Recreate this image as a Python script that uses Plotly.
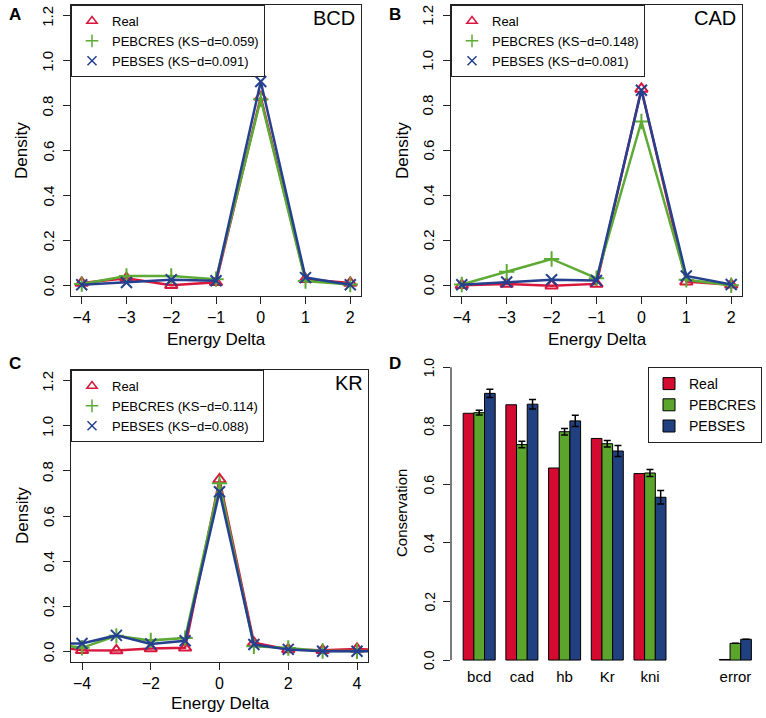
import plotly.graph_objects as go

W, H = 766, 718

# ---------------- data ----------------
series_names = ["Real", "PEBCRES", "PEBSES"]
ks_bcd = ["0.059", "0.091"]
ks_cad = ["0.148", "0.081"]
ks_kr = ["0.114", "0.088"]

delta_ab = [-4, -3, -2, -1, 0, 1, 2]
bcd_real = [0.010, 0.031, 0.000, 0.013, 0.838, 0.027, 0.010]
bcd_pebcres = [0.005, 0.041, 0.041, 0.027, 0.828, 0.019, 0.003]
bcd_pebses = [0.002, 0.012, 0.024, 0.020, 0.907, 0.034, 0.002]

cad_real = [0.000, 0.006, -0.002, 0.006, 0.874, 0.016, 0.002]
cad_pebcres = [0.003, 0.060, 0.117, 0.031, 0.729, 0.024, 0.000]
cad_pebses = [0.002, 0.014, 0.024, 0.021, 0.868, 0.041, 0.003]

delta_c = [-5, -4, -3, -2, -1, 0, 1, 2, 3, 4, 5]
kr_real = [0.025, 0.004, 0.003, 0.012, 0.015, 0.762, 0.037, 0.008, 0.004, 0.010, 0.002]
kr_pebcres = [0.035, 0.015, 0.068, 0.048, 0.058, 0.745, 0.022, 0.014, 0.001, 0.000, 0.000]
kr_pebses = [0.035, 0.034, 0.070, 0.032, 0.046, 0.708, 0.030, 0.008, 0.000, 0.000, 0.000]

genes = ["bcd", "cad", "hb", "Kr", "kni", " ", "error"]
cons_real = [0.843, 0.872, 0.656, 0.757, 0.637, None, 0.002]
cons_pebcres = [0.845, 0.736, 0.780, 0.739, 0.639, None, 0.057]
cons_pebses = [0.911, 0.874, 0.817, 0.714, 0.556, None, 0.071]
err_pebcres = [0.008, 0.011, 0.011, 0.011, 0.012, None, 0]
err_pebses = [0.014, 0.016, 0.019, 0.019, 0.023, None, 0]

density_ticks = [0, 0.2, 0.4, 0.6, 0.8, 1.0, 1.2]
cons_ticks = [0, 0.2, 0.4, 0.6, 0.8, 1.0]

# ---------------- styling ----------------
line_colors = ["#D8173D", "#5DAA34", "#24408E"]
bar_colors = ["#D40B31", "#5BA52D", "#21407F"]
symbols = ["triangle-up-open", "cross-thin-open", "x-thin-open"]
FONT = "Liberation Sans, Arial, sans-serif"


def px(x, y):
    return x / W, 1 - y / H


def dom_x(a, b):
    return [a / W, b / W]


def dom_y(top, bottom):
    return [1 - bottom / H, 1 - top / H]


fig = go.Figure()

panels = [
    dict(xa="x", ya="y", leg="legend", x=delta_ab,
         ys=[bcd_real, bcd_pebcres, bcd_pebses], ks=ks_bcd),
    dict(xa="x2", ya="y2", leg="legend2", x=delta_ab,
         ys=[cad_real, cad_pebcres, cad_pebses], ks=ks_cad),
    dict(xa="x3", ya="y3", leg="legend3", x=delta_c,
         ys=[kr_real, kr_pebcres, kr_pebses], ks=ks_kr),
]

for p in panels:
    for i, name in enumerate(series_names):
        fig.add_trace(go.Scatter(
            x=p["x"], y=p["ys"][i], mode="lines+markers",
            xaxis=p["xa"], yaxis=p["ya"], showlegend=False,
            line=dict(color=line_colors[i], width=2.5),
            marker=dict(symbol=symbols[i], size=11, color=line_colors[i],
                        line=dict(width=2, color=line_colors[i])),
        ))
    for i, name in enumerate(series_names):
        label = name if i == 0 else f"{name} (KS\u2212d={p['ks'][i-1]})"
        fig.add_trace(go.Scatter(
            x=[None], y=[None], mode="markers", name=label,
            xaxis=p["xa"], yaxis=p["ya"], legend=p["leg"],
            marker=dict(symbol=symbols[i], size=9, color=line_colors[i],
                        line=dict(width=1.5, color=line_colors[i])),
        ))

# bar panel
fig.add_trace(go.Bar(x=genes, y=cons_real, name="Real", xaxis="x4", yaxis="y4",
                     legend="legend4",
                     marker=dict(color=bar_colors[0], line=dict(color="black", width=1))))
fig.add_trace(go.Bar(x=genes, y=cons_pebcres, name="PEBCRES", xaxis="x4", yaxis="y4",
                     legend="legend4",
                     marker=dict(color=bar_colors[1], line=dict(color="black", width=1)),
                     error_y=dict(type="data", array=err_pebcres, color="black",
                                  thickness=1.5, width=3.5)))
fig.add_trace(go.Bar(x=genes, y=cons_pebses, name="PEBSES", xaxis="x4", yaxis="y4",
                     legend="legend4",
                     marker=dict(color=bar_colors[2], line=dict(color="black", width=1)),
                     error_y=dict(type="data", array=err_pebses, color="black",
                                  thickness=1.5, width=3.5)))

box_axis = dict(showline=True, linecolor="#222", linewidth=1.3, mirror=True,
                ticks="outside", ticklen=7, tickcolor="#222", tickwidth=1.2,
                showgrid=False, zeroline=False, automargin=False,
                tickfont=dict(size=16, color="black", family=FONT))

yticks = dict(tickmode="array", tickvals=density_ticks, showticklabels=False)

fig.update_layout(
    width=W, height=H, margin=dict(l=0, r=0, t=0, b=0, autoexpand=False),
    paper_bgcolor="white", plot_bgcolor="white",
    font=dict(family=FONT, color="black"),
    barmode="group", bargap=0.25, bargroupgap=0,
    xaxis=dict(domain=dom_x(71, 361), range=[-4.24, 2.24], anchor="y",
               tickmode="array", tickvals=delta_ab, **box_axis),
    yaxis=dict(domain=dom_y(5, 296), range=[-0.048, 1.248], anchor="x", **yticks, **box_axis),
    xaxis2=dict(domain=dom_x(451, 742), range=[-4.24, 2.24], anchor="y2",
                tickmode="array", tickvals=delta_ab, **box_axis),
    yaxis2=dict(domain=dom_y(5, 296), range=[-0.048, 1.248], anchor="x2", **yticks, **box_axis),
    xaxis3=dict(domain=dom_x(71, 368), range=[-4.32, 4.32], anchor="y3",
                tickmode="array", tickvals=[-4, -2, 0, 2, 4], **box_axis),
    yaxis3=dict(domain=dom_y(370, 662), range=[-0.048, 1.248], anchor="x3", **yticks, **box_axis),
    xaxis4=dict(domain=dom_x(451, 761), range=[-0.66, 6.6], anchor="y4",
                type="category", categoryorder="array", categoryarray=genes,
                showline=False, ticks="", showgrid=False, zeroline=False, automargin=False,
                tickfont=dict(size=15, color="black", family=FONT)),
    yaxis4=dict(domain=dom_y(355.6, 665.9), range=[-0.02, 1.04], anchor="x4",
                tickmode="array", tickvals=cons_ticks, showticklabels=False,
                showline=False, ticks="outside", ticklen=7, tickcolor="#222", tickwidth=1.2,
                showgrid=False, zeroline=False, automargin=False),
)

leg_common = dict(bgcolor="white", bordercolor="#222", borderwidth=1,
                  font=dict(size=13, color="black", family=FONT),
                  yanchor="top", itemwidth=30, tracegroupgap=0,
                  xref="paper", yref="paper")
lx, ly = px(71, 5)
fig.update_layout(legend=dict(x=lx, y=ly, xanchor="left", **leg_common))
lx, ly = px(451, 5)
fig.update_layout(legend2=dict(x=lx, y=ly, xanchor="left", **leg_common))
lx, ly = px(71, 370)
fig.update_layout(legend3=dict(x=lx, y=ly, xanchor="left", **leg_common))
lx, ly = px(762, 367)
leg4 = dict(leg_common)
leg4["font"] = dict(size=14, color="black", family=FONT)
fig.update_layout(legend4=dict(x=lx, y=ly, xanchor="right", **leg4))

# y-axis line of bar panel spanning only 0..1
fig.add_shape(type="line", xref="x4 domain", yref="y4", x0=0, x1=0, y0=0, y1=1,
              line=dict(color="#222", width=1.2))

annots = []


def add_text(text, x, y, size, angle=0, bold=False, xanchor="center"):
    ax, ay = px(x, y)
    annots.append(dict(text=f"<b>{text}</b>" if bold else text, x=ax, y=ay,
                       xref="paper", yref="paper", showarrow=False,
                       xanchor=xanchor, yanchor="middle", textangle=angle,
                       font=dict(size=size, color="black", family=FONT)))


def add_yticklabels(ticks, yref, xpix, size):
    for t in ticks:
        annots.append(dict(text=f"{t:.1f}", x=xpix / W, y=t, xref="paper", yref=yref,
                           showarrow=False, xanchor="center", yanchor="middle",
                           textangle=-90,
                           font=dict(size=size, color="black", family=FONT)))


add_yticklabels(density_ticks, "y", 48, 15)
add_yticklabels(density_ticks, "y2", 428, 15)
add_yticklabels(density_ticks, "y3", 48, 15)
add_yticklabels(cons_ticks, "y4", 429, 14)

# panel titles
add_text("BCD", 357, 18, 20, xanchor="right")
add_text("CAD", 738, 18, 20, xanchor="right")
add_text("KR", 365, 383, 20, xanchor="right")
# panel letters
add_text("A", 15, 14, 17, bold=True)
add_text("B", 395, 14, 17, bold=True)
add_text("C", 15, 363, 17, bold=True)
add_text("D", 395, 363, 17, bold=True)
# axis titles
add_text("Density", 22, 151, 17, angle=-90)
add_text("Density", 403, 151, 17, angle=-90)
add_text("Density", 22, 516, 17, angle=-90)
add_text("Energy Delta", 216, 340, 17)
add_text("Energy Delta", 597, 340, 17)
add_text("Energy Delta", 220, 703, 17)
add_text("Conservation", 401, 513, 15, angle=-90)

fig.update_layout(annotations=annots)

fig.write_html(
    "out.html",
    config={"displayModeBar": False},
    post_script="document.body.style.margin='0';document.body.style.overflow='hidden';",
)
